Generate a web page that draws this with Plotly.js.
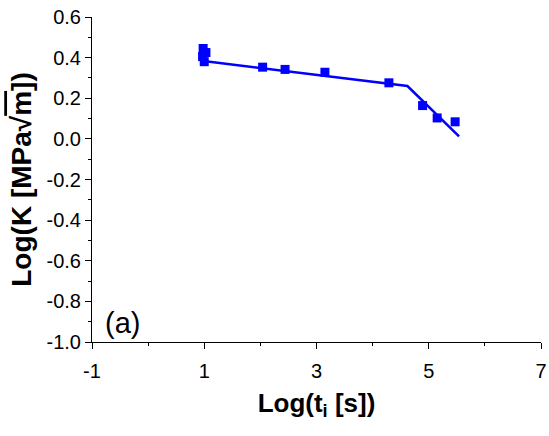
<!DOCTYPE html>
<html>
<head>
<meta charset="utf-8">
<script src="https://cdn.plot.ly/plotly-3.0.1.min.js"></script>
<style>html,body{margin:0;padding:0;background:#fff;}</style>
</head>
<body>
<div id="chart" style="width:549px;height:436px;"></div>
<script>
// Measured points: Log(t_i [s]) vs Log(K [MPa sqrt(m)])
const logT = [0.98, 1.03, 0.97, 1.00, 2.04, 2.44, 3.15, 4.29, 4.89, 5.15, 5.47];
const logK = [0.445, 0.425, 0.405, 0.38, 0.353, 0.342, 0.328, 0.276, 0.164, 0.103, 0.084];
// Bilinear fit line
const fitT = [0.95, 4.62, 5.54];
const fitK = [0.385, 0.26, 0.012];
// Tick labels
const xTickVals = [-1, 1, 3, 5, 7];
const xTickText = ['-1', '1', '3', '5', '7'];
const yTickVals = [0.6, 0.4, 0.2, 0.0, -0.2, -0.4, -0.6, -0.8, -1.0];
const yTickText = ['0.6', '0.4', '0.2', '0.0', '-0.2', '-0.4', '-0.6', '-0.8', '-1.0'];

const font = 'Liberation Sans, Arial, sans-serif';
const traces = [
  {x: fitT, y: fitK, mode: 'lines', line: {color: '#0000ff', width: 2.5}, hoverinfo: 'skip'},
  {x: logT, y: logK, mode: 'markers', marker: {symbol: 'square', size: 9, color: '#0000ff'}}
];
const layout = {
  width: 549, height: 436,
  margin: {l: 92, r: 8, t: 17, b: 94},
  paper_bgcolor: '#fff', plot_bgcolor: '#fff',
  showlegend: false,
  font: {family: font, color: '#000', size: 20},
  xaxis: {
    range: [-1, 7], showgrid: false, zeroline: false,
    showline: true, linecolor: '#000', linewidth: 1,
    ticks: 'outside', ticklen: 6, tickcolor: '#000', tickwidth: 1,
    tickmode: 'array', tickvals: xTickVals, ticktext: xTickText,
    ticklabelstandoff: 5,
    minor: {tickmode: 'linear', tick0: -1, dtick: 1, ticks: 'outside', ticklen: 3, tickcolor: '#000', showgrid: false},
    tickfont: {size: 20, family: font},
    title: {text: '<b>Log(t<sub>i</sub> [s])</b>', font: {size: 26, family: font}, standoff: 12}
  },
  yaxis: {
    range: [-1, 0.6], showgrid: false, zeroline: false,
    showline: true, linecolor: '#000', linewidth: 1,
    ticks: 'outside', ticklen: 6, tickcolor: '#000', tickwidth: 1,
    tickmode: 'array', tickvals: yTickVals, ticktext: yTickText,
    minor: {tickmode: 'linear', tick0: -1, dtick: 0.1, ticks: 'outside', ticklen: 3, tickcolor: '#000', showgrid: false},
    tickfont: {size: 20, family: font},
    title: {text: '<b>Log(K [MPa√<span style="text-decoration:overline">m</span>])</b>', font: {size: 28, family: font}, standoff: 6}
  },
  annotations: [{
    xref: 'paper', yref: 'paper', x: 0.068, y: 0.06, xanchor: 'center', yanchor: 'middle',
    text: '(a)', showarrow: false, font: {size: 29, family: font, color: '#000'}
  }]
};
Plotly.newPlot('chart', traces, layout, {displayModeBar: false, staticPlot: true});
</script>
</body>
</html>
